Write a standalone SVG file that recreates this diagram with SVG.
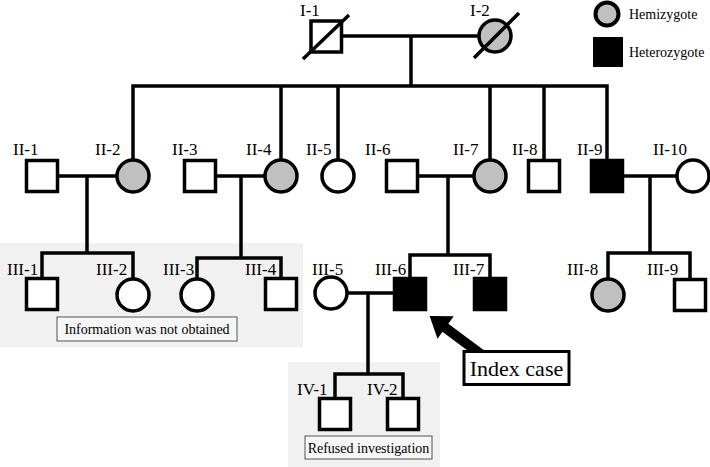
<svg xmlns="http://www.w3.org/2000/svg" width="710" height="467" viewBox="0 0 710 467">
<defs>
<style>
.sq{fill:#fff;stroke:#000;stroke-width:3.5}
.ci{fill:#fff;stroke:#000;stroke-width:3.5}
.hemi{fill:#c0c0c0}
.het{fill:#000}
.ln{fill:none;stroke:#000;stroke-width:3.5;stroke-linecap:square}
text{font-family:'Liberation Serif','Times New Roman',serif;fill:#000}
.lbl{font-size:17px}
.note{font-size:14px}
.big{font-size:22px}
.area{fill:#f1f1f1}
.nbox{fill:#f6f6f6;stroke:#555;stroke-width:1}
</style>
</defs>
<rect width="710" height="467" fill="#fff"/>
<!-- shaded regions -->
<rect class="area" x="0" y="243" width="303" height="104"/>
<rect class="area" x="288" y="362" width="152" height="105"/>

<!-- connectors -->
<g id="connectors">
<path class="ln" d="M342 36H478 M411 36V86 M133 86H607 M133 86V159 M281 86V159 M338 86V159 M490 86V159 M544 86V159 M607 86V159"/>
<path class="ln" d="M59 176H116 M87 176V253 M42 253H133 M42 253V277 M133 253V278"/>
<path class="ln" d="M216 176H264 M241 176V258 M197 258H281 M197 258V278 M281 258V277"/>
<path class="ln" d="M419 176H473 M448 176V255 M410 255H490 M410 255V277 M490 255V277"/>
<path class="ln" d="M625 176H676 M650 176V253 M608 253H690 M608 253V278 M690 253V278"/>
<path class="ln" d="M348 293H393 M368 293V374 M335 374H403 M335 374V397 M403 374V397"/>
</g>

<!-- generation I -->
<g id="I-1"><rect class="sq" x="311" y="21" width="30.5" height="31"/><line x1="303" y1="59" x2="349" y2="15" stroke="#000" stroke-width="3.5"/><text class="lbl" x="300" y="16">I-1</text></g>
<g id="I-2"><circle class="ci hemi" cx="495" cy="36" r="16"/><line x1="474" y1="58" x2="519" y2="13" stroke="#000" stroke-width="3.5"/><text class="lbl" x="470" y="16">I-2</text></g>

<!-- generation II -->
<g id="II-1"><rect class="sq" x="26.5" y="160.5" width="31" height="31"/><text class="lbl" x="13" y="155">II-1</text></g>
<g id="II-2"><circle class="ci hemi" cx="133" cy="176" r="16"/><text class="lbl" x="95" y="155">II-2</text></g>
<g id="II-3"><rect class="sq" x="184.5" y="160.5" width="31" height="31"/><text class="lbl" x="172" y="155">II-3</text></g>
<g id="II-4"><circle class="ci hemi" cx="281" cy="176" r="16"/><text class="lbl" x="246" y="155">II-4</text></g>
<g id="II-5"><circle class="ci" cx="338" cy="176" r="16"/><text class="lbl" x="306" y="155">II-5</text></g>
<g id="II-6"><rect class="sq" x="386.5" y="160.5" width="31" height="31"/><text class="lbl" x="365" y="155">II-6</text></g>
<g id="II-7"><circle class="ci hemi" cx="490" cy="176" r="16"/><text class="lbl" x="453" y="155">II-7</text></g>
<g id="II-8"><rect class="sq" x="528.5" y="160.5" width="31" height="31"/><text class="lbl" x="512" y="155">II-8</text></g>
<g id="II-9"><rect class="sq het" x="591.5" y="160.5" width="31" height="31"/><text class="lbl" x="577" y="155">II-9</text></g>
<g id="II-10"><circle class="ci" cx="693" cy="176" r="16"/><text class="lbl" x="653" y="155">II-10</text></g>

<!-- generation III -->
<g id="III-1"><rect class="sq" x="26.5" y="278.5" width="31" height="31"/><text class="lbl" x="7" y="275">III-1</text></g>
<g id="III-2"><circle class="ci" cx="133" cy="295" r="16"/><text class="lbl" x="96" y="275">III-2</text></g>
<g id="III-3"><circle class="ci" cx="197" cy="295" r="16"/><text class="lbl" x="163" y="275">III-3</text></g>
<g id="III-4"><rect class="sq" x="265.5" y="278.5" width="31" height="31"/><text class="lbl" x="245" y="275">III-4</text></g>
<g id="III-5"><circle class="ci" cx="331" cy="293" r="16"/><text class="lbl" x="312" y="275">III-5</text></g>
<g id="III-6"><rect class="sq het" x="394.5" y="278.5" width="31" height="31"/><text class="lbl" x="375" y="275">III-6</text></g>
<g id="III-7"><rect class="sq het" x="474.5" y="278.5" width="31" height="31"/><text class="lbl" x="453" y="275">III-7</text></g>
<g id="III-8"><circle class="ci hemi" cx="608" cy="295" r="16"/><text class="lbl" x="567" y="275">III-8</text></g>
<g id="III-9"><rect class="sq" x="674.5" y="279.5" width="31" height="31"/><text class="lbl" x="647" y="275">III-9</text></g>

<!-- generation IV -->
<g id="IV-1"><rect class="sq" x="319.5" y="398.5" width="31" height="31"/><text class="lbl" x="297" y="395">IV-1</text></g>
<g id="IV-2"><rect class="sq" x="387.5" y="398.5" width="31" height="31"/><text class="lbl" x="367" y="395">IV-2</text></g>

<!-- notes -->
<g id="note-info"><rect class="nbox" x="57" y="317" width="180" height="24"/><text class="note" x="147" y="334" text-anchor="middle">Information was not obtained</text></g>
<g id="note-refused"><rect class="nbox" x="305" y="436" width="127" height="23"/><text class="note" x="368.5" y="452.5" text-anchor="middle">Refused investigation</text></g>

<!-- index case -->
<g id="index-case">
<line x1="443" y1="326" x2="482" y2="355" stroke="#000" stroke-width="10"/>
<polygon points="431,317 437.8,336.7 451.8,317.2" fill="#000" stroke="#000" stroke-width="2"/>
<rect x="464" y="351.5" width="105" height="33" fill="#fff" stroke="#000" stroke-width="3"/>
<text class="big" x="516.5" y="376" text-anchor="middle">Index case</text>
</g>

<!-- legend -->
<g id="legend">
<circle cx="607" cy="14" r="11.5" fill="#c0c0c0" stroke="#000" stroke-width="4"/>
<text class="note" x="629" y="19">Hemizygote</text>
<rect x="593" y="37" width="30" height="30" fill="#000"/>
<text class="note" x="629" y="57">Heterozygote</text>
</g>
</svg>
